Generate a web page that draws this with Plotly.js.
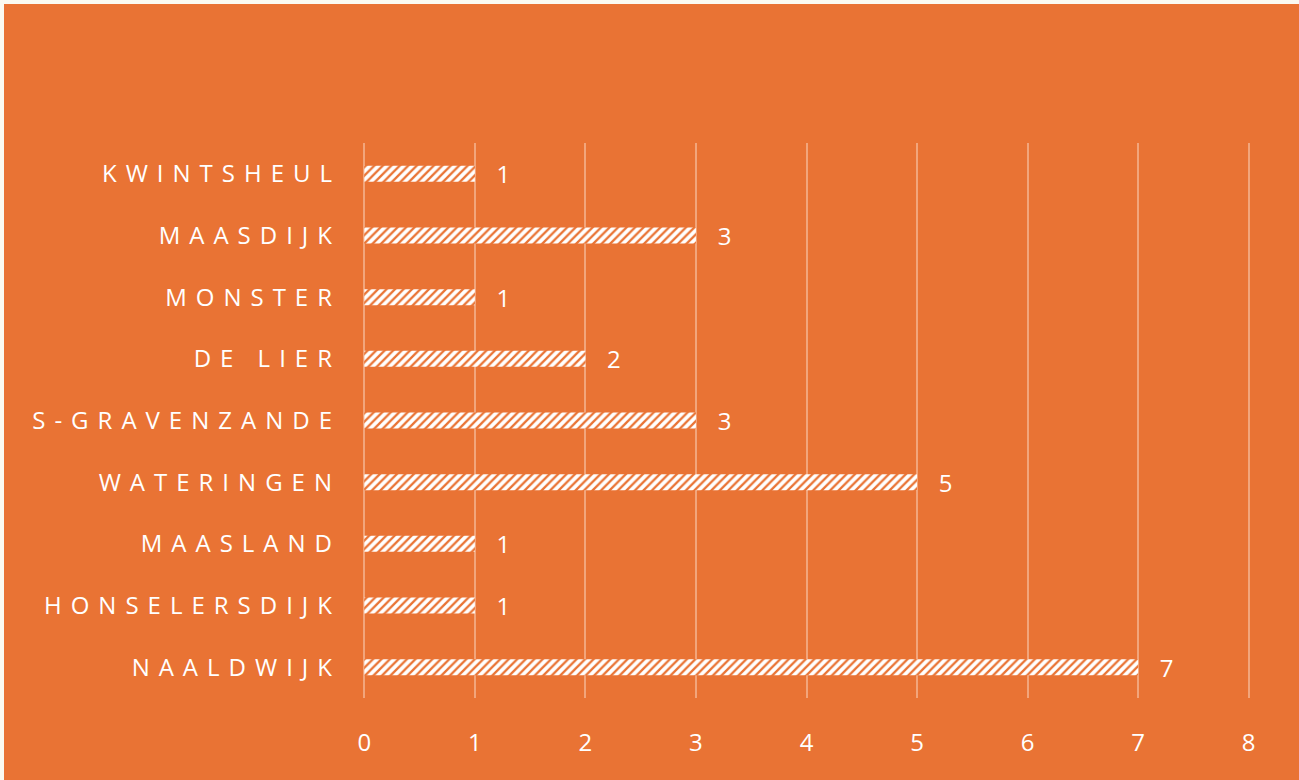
<!DOCTYPE html>
<html>
<head>
<meta charset="utf-8">
<script src="https://cdn.plot.ly/plotly-3.0.1.min.js"></script>
<style>
  html, body { margin: 0; padding: 0; background: #FBFAF1; }
  #chart { position: absolute; left: 4px; top: 4px; width: 1295px; height: 776px; }
  #chart .ytick text { letter-spacing: 9px; }
</style>
</head>
<body>
<div id="chart"></div>
<script>
const categories = ["KWINTSHEUL", "MAASDIJK", "MONSTER", "DE LIER", "S-GRAVENZANDE", "WATERINGEN", "MAASLAND", "HONSELERSDIJK", "NAALDWIJK"];
const values = [1, 3, 1, 2, 3, 5, 1, 1, 7];
const xTicks = [0, 1, 2, 3, 4, 5, 6, 7, 8];

const orange = "#E97334";
const fontFam = "'Open Sans', 'DejaVu Sans', sans-serif";

const trace = {
  type: "bar",
  orientation: "h",
  y: categories,
  x: values,
  text: values.map(String),
  texttemplate: "\u00A0\u00A0\u00A0%{x}",
  textposition: "outside",
  constraintext: "none",
  cliponaxis: false,
  textfont: { color: "#FFFFFF", size: 24, family: fontFam, weight: 400 },
  marker: {
    color: "#FFFFFF",
    line: { width: 0 },
    pattern: { shape: "/", bgcolor: "#FFFFFF", fgcolor: orange, size: 6, solidity: 0.38, fillmode: "replace" }
  },
  hoverinfo: "none"
};

const layout = {
  width: 1295,
  height: 776,
  paper_bgcolor: orange,
  plot_bgcolor: orange,
  margin: { l: 359, r: 49, t: 139, b: 82 },
  bargap: 0.74,
  showlegend: false,
  font: { family: fontFam, color: "#FFFFFF", size: 24 },
  xaxis: {
    range: [-0.012, 8.012],
    tickvals: xTicks,
    ticktext: xTicks.map(String),
    showgrid: true,
    gridcolor: "#F2A57B",
    gridwidth: 2,
    zeroline: false,
    showline: false,
    ticks: "",
    ticklabelstandoff: 28,
    tickfont: { color: "#FFFFFF", size: 24, family: fontFam, weight: 400 },
    fixedrange: true
  },
  yaxis: {
    type: "category",
    autorange: "reversed",
    showgrid: false,
    zeroline: false,
    showline: false,
    ticks: "",
    ticklabelstandoff: 21,
    tickfont: { color: "#FFFFFF", size: 24, family: fontFam, weight: 400 },
    fixedrange: true
  }
};

Plotly.newPlot("chart", [trace], layout, { displayModeBar: false, staticPlot: true });
</script>
</body>
</html>
